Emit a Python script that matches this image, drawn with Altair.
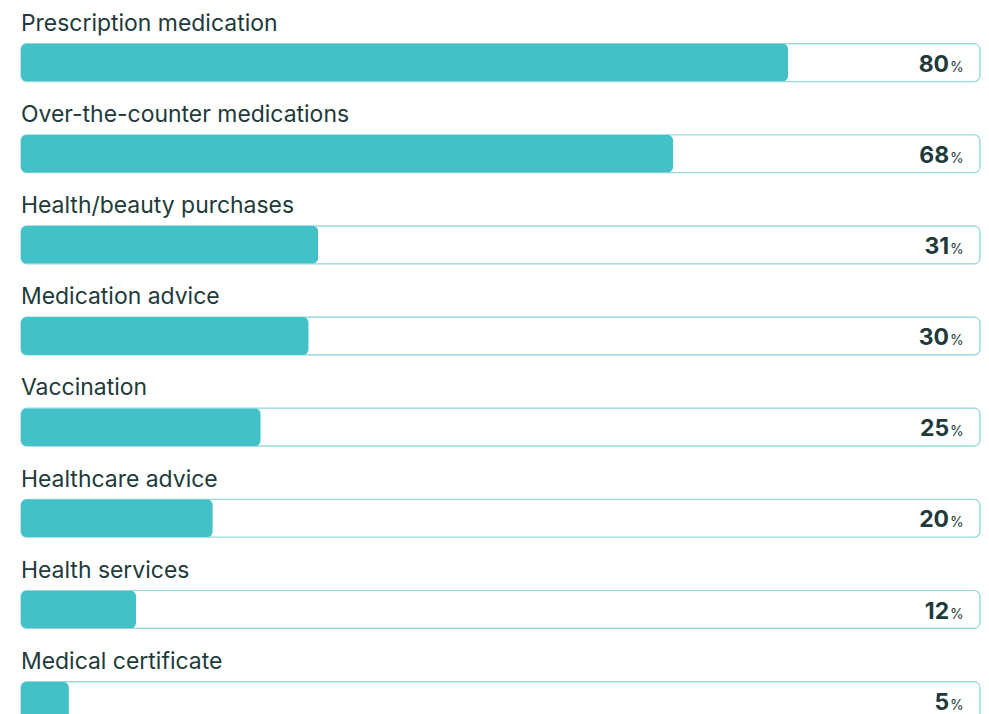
import altair as alt
import pandas as pd

categories = [
    "Prescription medication",
    "Over-the-counter medications",
    "Health/beauty purchases",
    "Medication advice",
    "Vaccination",
    "Healthcare advice",
    "Health services",
    "Medical certificate",
]
values = [80, 68, 31, 30, 25, 20, 12, 5]

df = pd.DataFrame({"category": categories, "value": values, "full": [100] * len(values)})
df["num"] = df["value"].astype(str)

FILL = "#42C2C6"
BORDER = "#98D9DD"
TEXT = "#1E3A3A"
FONT = "Inter"

y = alt.Y("category:N", sort=categories, axis=None,
          scale=alt.Scale(paddingInner=0, paddingOuter=0))
x_scale = alt.Scale(domain=[0, 100], nice=False, zero=True)

base = alt.Chart(df)

bg = base.mark_bar(size=38, yOffset=16.3, cornerRadius=6, fill="white",
                   stroke=BORDER, strokeWidth=1.2).encode(
    x=alt.X("full:Q", scale=x_scale, axis=None), y=y)

fg = base.mark_bar(size=38, yOffset=16.3, cornerRadius=6, color=FILL).encode(
    x=alt.X("value:Q", scale=x_scale, axis=None), y=y)

lbl = base.mark_text(align="left", baseline="alphabetic", dy=-15.5, dx=0,
                     font=FONT, fontSize=23, color=TEXT).encode(
    x=alt.datum(0), y=y, text="category:N")

num = base.mark_text(align="right", baseline="alphabetic", dy=25.5, dx=-31,
                     font=FONT, fontSize=23, fontWeight="bold", color=TEXT).encode(
    x=alt.datum(100), y=y, text="num:N")

pct = base.mark_text(align="left", baseline="alphabetic", dy=25.5, dx=-30,
                     font=FONT, fontSize=14, color=TEXT).encode(
    x=alt.datum(100), y=y, text=alt.value("%"))

chart = alt.layer(bg, fg, lbl, num, pct).properties(
    width=961, height=alt.Step(91.33),
    padding={"left": 20, "top": 0, "right": 8, "bottom": 0},
    background="white",
).configure_view(stroke=None)

chart.save("out.html", embed_options={"renderer": "svg", "actions": False})
